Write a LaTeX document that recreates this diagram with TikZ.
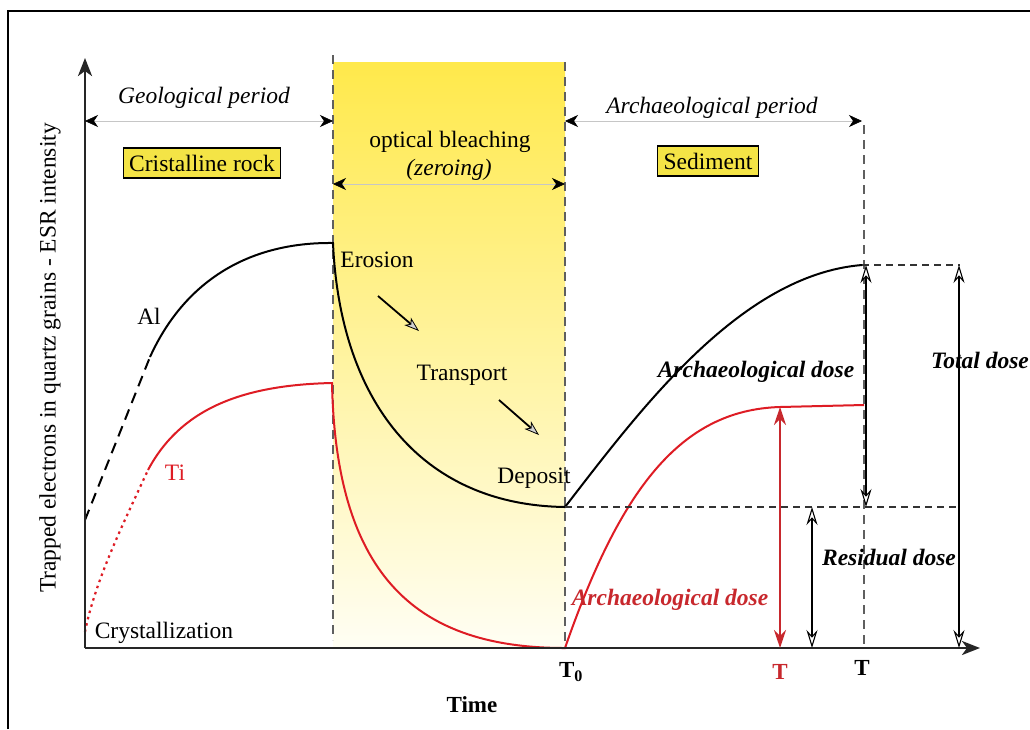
\documentclass[tikz,border=0pt]{standalone}
\usepackage{fontspec}
\setmainfont{Liberation Serif}
\usetikzlibrary{arrows.meta}
\definecolor{ytop}{RGB}{255,233,75}
\definecolor{ymid}{RGB}{255,244,168}
\definecolor{ybot}{RGB}{255,254,244}
\definecolor{boxy}{RGB}{244,228,70}
\definecolor{tired}{RGB}{222,28,36}
\definecolor{dred}{RGB}{200,40,45}
\definecolor{dashg}{RGB}{95,95,95}
\begin{document}
\begin{tikzpicture}[x=1pt,y=-1pt,
  txt/.style={font=\fontsize{23.5}{28}\selectfont, inner sep=0pt},
  itx/.style={font=\fontsize{23.5}{28}\selectfont\itshape, inner sep=0pt},
  bix/.style={font=\fontsize{23.5}{28}\selectfont\bfseries\itshape, inner sep=0pt},
  bfx/.style={font=\fontsize{23}{27}\selectfont\bfseries, inner sep=0pt},
  labelbox/.style={txt, draw=black, line width=1.3pt, fill=boxy, inner xsep=6pt, minimum height=30pt},
  per/.style={draw=gray!45, line width=0.6pt,
     arrows={Stealth[length=13pt,width=12pt,inset=4pt,color=black]-Stealth[length=13pt,width=12pt,inset=4pt,color=black]}},
  dose/.style={draw=black, line width=2pt,
     arrows={Stealth[length=18pt,width=11pt,inset=6pt,fill=white,line width=1.1pt]-Stealth[length=18pt,width=11pt,inset=6pt,fill=white,line width=1.1pt]}},
  rdose/.style={draw=dred, line width=2.2pt,
     arrows={Stealth[length=18pt,width=12pt,inset=6pt]-Stealth[length=18pt,width=12pt,inset=6pt]}},
  flow/.style={draw=black, line width=1.8pt,
     arrows={-Stealth[length=15pt,width=10pt,inset=4pt,fill=gray!35,line width=0.8pt]}},
  guide/.style={draw=dashg, line width=1.3pt, dash pattern=on 9pt off 6pt},
  hguide/.style={draw=black!80, line width=1.1pt, dash pattern=on 7pt off 5pt},
  axis/.style={draw=black!85, line width=2.6pt, arrows={-Stealth[length=18pt,width=14pt,inset=5pt]}},
  alc/.style={draw=black, line width=2pt},
  tic/.style={draw=tired, line width=2pt}
]
\useasboundingbox (0,0) rectangle (1030,729);
\fill[white] (0,0) rectangle (1030,729);
% outer frame
\draw[line width=2pt] (8,729) -- (8,11) -- (1030,11);

% bleaching band
\shade[top color=ytop, middle color=ymid, bottom color=ybot] (333,62) rectangle (565,648);

% coordinates
\coordinate (O) at (85,648);
\coordinate (ytip) at (85,58);
\coordinate (xtip) at (980,648);
\coordinate (b1top) at (333,55);
\coordinate (b1bot) at (333,640);
\coordinate (b2top) at (565,62);
\coordinate (b2bot) at (565,648);
\coordinate (b3top) at (864,125);
\coordinate (b3bot) at (864,648);

% guides
\draw[guide] (b1top) -- (b1bot);
\draw[guide] (b2top) -- (b2bot);
\draw[guide] (b3top) -- (b3bot);

% Al curve
\coordinate (al0) at (85,520);
\coordinate (al1) at (150,357);
\coordinate (al2) at (333,243);
\coordinate (al3) at (565,507);
\coordinate (al4) at (862,265);
\draw[alc, dash pattern=on 11pt off 7pt] (al0) -- (al1);
\draw[alc] (al1) .. controls (185,280) and (250,242) .. (al2)
   .. controls (340,400) and (420,505) .. (al3)
   .. controls (640,410) and (740,275) .. (al4);

% Ti curve
\coordinate (ti0) at (85,632);
\coordinate (ti1) at (148,470);
\coordinate (ti2) at (332,383);
\coordinate (ti3) at (565,648);
\coordinate (ti4) at (780,407);
\coordinate (ti5) at (864,405);
\draw[tic, line width=2.2pt, dash pattern=on 2.5pt off 4pt] (ti0) .. controls (95,580) and (125,520) .. (ti1);
\draw[tic] (ti1) .. controls (180,410) and (240,385) .. (ti2)
   .. controls (336,580) and (420,648) .. (ti3)
   .. controls (620,490) and (680,410) .. (ti4) -- (ti5);

% horizontal dashed guides
\coordinate (h1a) at (565,507);
\coordinate (h1b) at (960,507);
\coordinate (h2a) at (862,265);
\coordinate (h2b) at (960,265);
\draw[hguide] (h1a) -- (h1b);
\draw[hguide] (h2a) -- (h2b);

% axes
\draw[axis] (O) -- (xtip);
\draw[axis] (O) -- (ytip);

% period arrows
\coordinate (g1) at (85,121);
\coordinate (g2) at (333,121);
\coordinate (z1) at (333,184);
\coordinate (z2) at (565,184);
\coordinate (a1) at (565,121);
\coordinate (a2) at (862,121);
\draw[per] (g1) -- (g2);
\draw[per] (z1) -- (z2);
\draw[per] (a1) -- (a2);

% dose arrows
\coordinate (d1t) at (866,265);
\coordinate (d1b) at (866,507);
\coordinate (d2t) at (959,265);
\coordinate (d2b) at (959,648);
\coordinate (d3t) at (812,507);
\coordinate (d3b) at (812,648);
\coordinate (d4t) at (780,407);
\coordinate (d4b) at (780,648);
\draw[dose] (d1t) -- (d1b);
\draw[dose] (d2t) -- (d2b);
\draw[dose] (d3t) -- (d3b);
\draw[rdose] (d4t) -- (d4b);

% flow arrows
\coordinate (f1a) at (378,296);
\coordinate (f1b) at (419,331);
\coordinate (f2a) at (499,400);
\coordinate (f2b) at (539,435);
\draw[flow] (f1a) -- (f1b);
\draw[flow] (f2a) -- (f2b);

% texts
\node[itx] (geo) at (204,98) {Geological period};
\node[labelbox] (rock) at (202,163) {Cristalline rock};
\node[txt] (opt) at (450,142) {optical bleaching};
\node[itx] (zer) at (449,170) {(zeroing)};
\node[itx] (arp) at (712,108) {Archaeological period};
\node[labelbox] (sed) at (708,161) {Sediment};
\node[txt] (al) at (149,316) {Al};
\node[txt, text=tired] (ti) at (175,473) {Ti};
\node[txt] (cry) at (164,633) {Crystallization};
\node[txt] (ero) at (377,260) {Erosion};
\node[txt] (tra) at (462,375) {Transport};
\node[txt] (dep) at (534,478) {Deposit};
\node[bix] (ad1) at (756,372) {Archaeological dose};
\node[bix, text=dred] (ad2) at (670,600) {Archaeological dose};
\node[bix] (tot) at (980,360) {Total dose};
\node[bix] (res) at (889,557) {Residual dose};
\node[bfx] (t0) at (571,672) {T\textsubscript{0}};
\node[bfx, text=dred] (tr) at (780,672) {T};
\node[bfx] (tb) at (862,668) {T};
\node[bfx] (time) at (472,705) {Time};
\node[txt, rotate=90] (ylab) at (50,358) {Trapped electrons in quartz grains - ESR intensity};
\end{tikzpicture}
\end{document}
